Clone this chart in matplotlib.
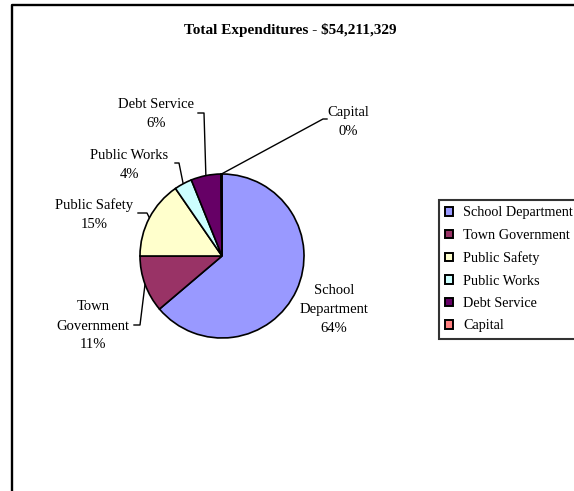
import matplotlib
matplotlib.use("Agg")
import matplotlib.pyplot as plt
import numpy as np
from matplotlib.lines import Line2D
from matplotlib.patches import Patch

# ---- data ----
categories = ["School Department", "Town Government", "Public Safety",
              "Public Works", "Debt Service", "Capital"]
shares = [63.8, 11.2, 15.4, 3.5, 5.9, 0.2]   # percent of total
title = "Total Expenditures - \\$54,211,329"
colors = ["#9999FF", "#993366", "#FFFFCC", "#CCFFFF", "#660066", "#FF8080"]

plt.rcParams['font.family'] = ['Liberation Serif', 'DejaVu Serif']

W, H = 574, 491
fig = plt.figure(figsize=(W / 100, H / 100), dpi=100)
fig.patch.set_facecolor("white")

def px(x, y):
    return x / W, 1 - y / H

# outer chart frame (right/bottom edges fall outside the picture)
fig.add_artist(Line2D([px(11.5, 0)[0], px(11.5, 0)[0], 1.2],
                      [-0.1, px(0, 4.8)[1], px(0, 4.8)[1]],
                      transform=fig.transFigure, color="black", lw=1.7))

fig.text(290 / W, 1 - 30 / H, title, ha="center", va="center",
         fontsize=11, fontweight="bold")

# pie axes
cx, cy, R = 222, 256, 82
ax = fig.add_axes([(cx - R) / W, (H - cy - R) / H, 2 * R / W, 2 * R / H])
wedges, _ = ax.pie(shares, colors=colors, startangle=90, counterclock=False,
                   radius=1.0,
                   wedgeprops=dict(edgecolor="black", linewidth=1.2))
ax.set_xlim(-1, 1)
ax.set_ylim(-1, 1)
ax.set_aspect("equal")
ax.axis("off")

# label layout (pixel offsets from center, y up)
text_pos = [(112, -53), (-129, -70), (-128, 41), (-93, 91.5), (-66, 142), (126, 134.5)]
elbows = [None,
          [(-82, -69), (-88, -69)],
          [(-75, 43), (-84, 43)],
          [(-43, 93), (-47, 93)],
          [(-18, 143), (-24, 143)],
          [(101, 137), (105, 137)]]

def lab(name, v):
    n = name
    if name == "Town Government":
        n = "Town\nGovernment"
    elif name == "School Department":
        n = "School\nDepartment"
    return f"{n}\n{v:.0f}%"

for w, name, v, tp, el in zip(wedges, categories, shares, text_pos, elbows):
    mid = np.deg2rad((w.theta1 + w.theta2) / 2)
    if el is not None:
        xs = [np.cos(mid)] + [p[0] / R for p in el]
        ys = [np.sin(mid)] + [p[1] / R for p in el]
        ax.plot(xs, ys, color="black", lw=1.0, clip_on=False, zorder=0.5)
    ax.text(tp[0] / R, tp[1] / R, lab(name, v), ha="center", va="center",
            multialignment="center", fontsize=10.5, linespacing=1.6,
            clip_on=False)

handles = [Patch(facecolor=c, edgecolor="black", linewidth=1.4) for c in colors]
leg = fig.legend(handles, categories, loc="upper left",
                 bbox_to_anchor=(439 / W, 1 - 200 / H), fontsize=10.3,
                 frameon=True, fancybox=False, edgecolor="black",
                 handlelength=0.55, handleheight=0.55, handletextpad=0.7,
                 labelspacing=0.66, borderpad=0.45, borderaxespad=0)
leg.get_frame().set_linewidth(1.5)

fig.savefig("out.png", dpi=100, facecolor="white")
